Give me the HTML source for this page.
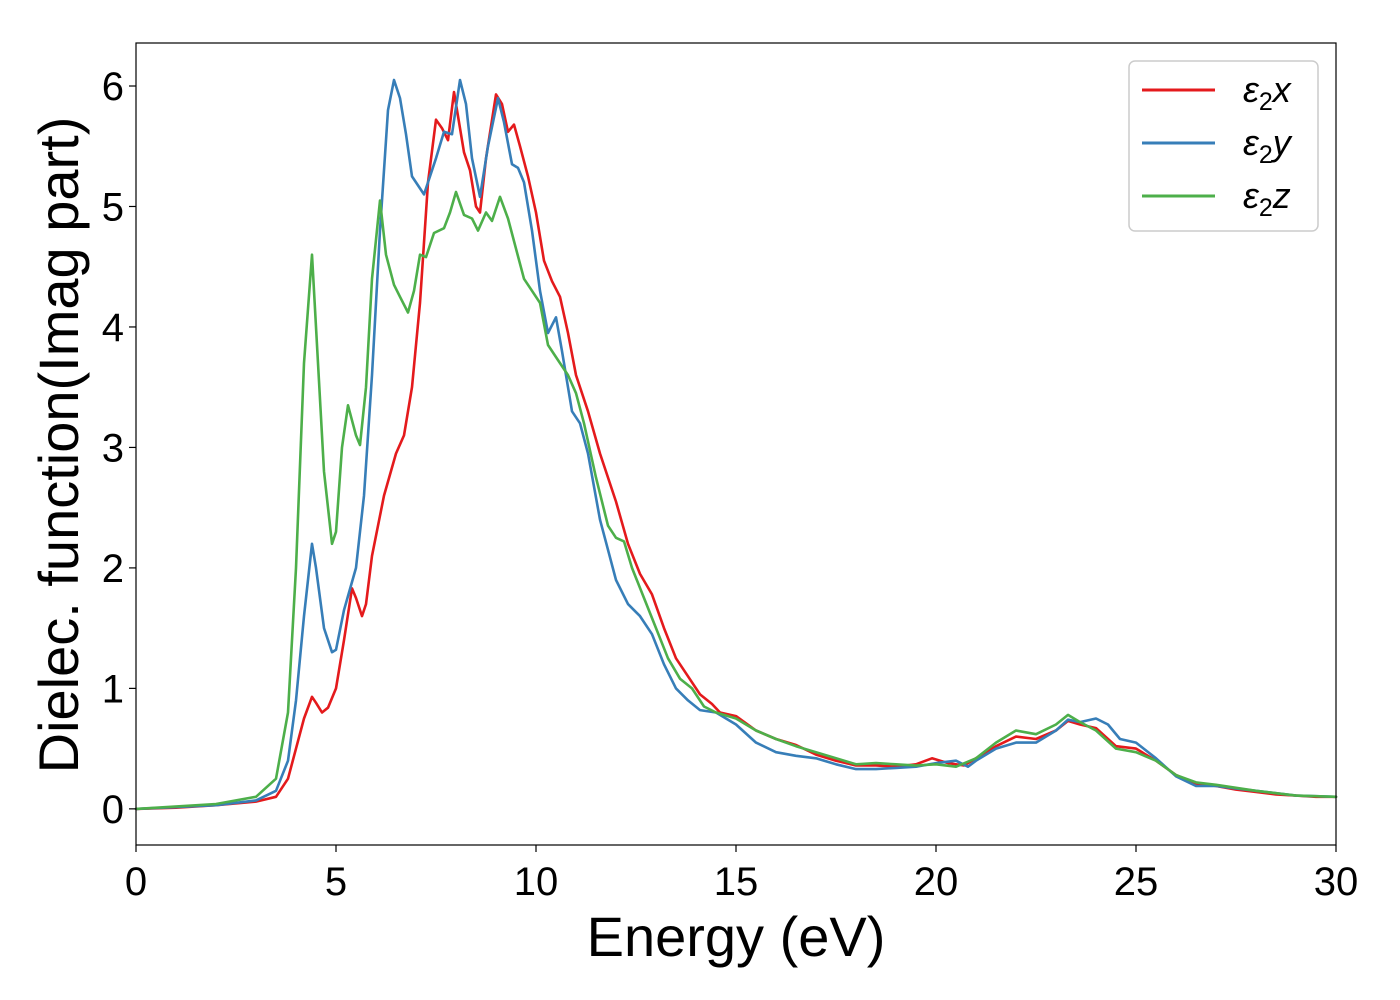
<!DOCTYPE html>
<html><head><meta charset="utf-8"><style>
html,body{margin:0;padding:0;background:#fff}
svg{display:block;font-family:"Liberation Sans","DejaVu Sans",sans-serif}
</style></head><body>
<svg id="chart" width="1400" height="1000" viewBox="0 0 1400 1000">
<g id="plot"></g>
<g id="axes"></g>
<text x="736" y="956" font-size="56" text-anchor="middle">Energy (eV)</text>
<text transform="translate(78,445) rotate(-90)" font-size="56" text-anchor="middle">Dielec. function(Imag part)</text>
<g>
<rect x="1129" y="61" width="189" height="170" rx="6" fill="#fff" stroke="#ccc" stroke-width="1.5"/>
<line x1="1142" y1="90" x2="1215" y2="90" stroke="#e41a1c" stroke-width="3"/>
<text x="1243" y="102" font-size="36" font-style="italic">ε<tspan font-style="normal" font-size="25" dy="8">2</tspan><tspan dy="-8">x</tspan></text>
<line x1="1142" y1="143" x2="1215" y2="143" stroke="#377eb8" stroke-width="3"/>
<text x="1243" y="155" font-size="36" font-style="italic">ε<tspan font-style="normal" font-size="25" dy="8">2</tspan><tspan dy="-8">y</tspan></text>
<line x1="1142" y1="196" x2="1215" y2="196" stroke="#4daf4a" stroke-width="3"/>
<text x="1243" y="208" font-size="36" font-style="italic">ε<tspan font-style="normal" font-size="25" dy="8">2</tspan><tspan dy="-8">z</tspan></text>
</g>
</svg>
<script>
const xTicks=[0,5,10,15,20,25,30];
const yTicks=[0,1,2,3,4,5,6];
const seriesX=[[0,0],[1,0.01],[2,0.03],[3,0.06],[3.5,0.1],[3.8,0.25],[4.0,0.5],[4.2,0.75],[4.4,0.93],[4.5,0.88],[4.65,0.8],[4.8,0.84],[5.0,1.0],[5.2,1.4],[5.4,1.83],[5.5,1.75],[5.65,1.6],[5.75,1.7],[5.9,2.1],[6.2,2.6],[6.5,2.95],[6.7,3.1],[6.9,3.5],[7.1,4.2],[7.3,5.2],[7.5,5.72],[7.65,5.65],[7.8,5.55],[7.95,5.95],[8.05,5.75],[8.2,5.45],[8.35,5.3],[8.5,5.0],[8.6,4.95],[8.75,5.4],[9.0,5.93],[9.15,5.85],[9.3,5.62],[9.45,5.68],[9.6,5.5],[9.8,5.25],[10.0,4.95],[10.2,4.55],[10.4,4.38],[10.6,4.25],[10.8,3.95],[11.0,3.6],[11.3,3.3],[11.6,2.95],[12.0,2.55],[12.3,2.2],[12.6,1.95],[12.9,1.78],[13.2,1.5],[13.5,1.25],[13.8,1.1],[14.1,0.95],[14.4,0.87],[14.6,0.8],[15.0,0.77],[15.5,0.65],[16,0.58],[16.5,0.53],[17,0.45],[17.5,0.4],[18,0.36],[18.5,0.36],[19,0.35],[19.5,0.37],[19.9,0.42],[20.3,0.38],[20.7,0.36],[21,0.42],[21.5,0.52],[22,0.6],[22.5,0.58],[23,0.65],[23.3,0.73],[23.6,0.7],[24,0.67],[24.5,0.52],[25,0.5],[25.5,0.4],[26,0.28],[26.5,0.21],[27,0.19],[27.5,0.16],[28,0.14],[28.5,0.12],[29,0.11],[29.5,0.1],[30,0.1]];
const seriesY=[[0,0],[2,0.03],[3,0.07],[3.5,0.15],[3.8,0.4],[4.0,0.9],[4.2,1.6],[4.4,2.2],[4.5,2.0],[4.7,1.5],[4.9,1.3],[5.0,1.32],[5.2,1.65],[5.5,2.0],[5.7,2.6],[5.9,3.6],[6.1,4.8],[6.3,5.8],[6.45,6.05],[6.6,5.9],[6.75,5.6],[6.9,5.25],[7.2,5.1],[7.5,5.4],[7.7,5.62],[7.9,5.6],[8.1,6.05],[8.25,5.85],[8.4,5.4],[8.6,5.08],[8.8,5.5],[9.05,5.9],[9.2,5.7],[9.4,5.35],[9.55,5.32],[9.7,5.2],[9.9,4.8],[10.1,4.3],[10.3,3.95],[10.5,4.08],[10.65,3.8],[10.9,3.3],[11.1,3.2],[11.3,2.95],[11.6,2.4],[11.8,2.15],[12.0,1.9],[12.3,1.7],[12.6,1.6],[12.9,1.45],[13.2,1.2],[13.5,1.0],[13.8,0.9],[14.1,0.82],[14.5,0.8],[15,0.7],[15.5,0.55],[16,0.47],[16.5,0.44],[17,0.42],[17.5,0.37],[18,0.33],[18.5,0.33],[19,0.34],[19.5,0.35],[20,0.38],[20.5,0.4],[20.8,0.35],[21,0.4],[21.5,0.5],[22,0.55],[22.5,0.55],[23,0.65],[23.3,0.74],[23.6,0.72],[24,0.75],[24.3,0.7],[24.6,0.58],[25,0.55],[25.5,0.42],[26,0.27],[26.5,0.19],[27,0.19],[27.5,0.17],[28,0.15],[28.5,0.13],[29,0.11],[30,0.1]];
const seriesZ=[[0,0],[2,0.04],[3,0.1],[3.5,0.25],[3.8,0.8],[4.0,2.0],[4.2,3.7],[4.4,4.6],[4.5,4.0],[4.7,2.8],[4.9,2.2],[5.0,2.3],[5.15,3.0],[5.3,3.35],[5.5,3.1],[5.6,3.02],[5.75,3.5],[5.9,4.4],[6.1,5.05],[6.25,4.6],[6.45,4.35],[6.6,4.25],[6.8,4.12],[6.95,4.3],[7.1,4.6],[7.25,4.58],[7.45,4.78],[7.7,4.82],[7.85,4.95],[8.0,5.12],[8.2,4.93],[8.4,4.9],[8.55,4.8],[8.75,4.95],[8.9,4.88],[9.1,5.08],[9.3,4.9],[9.5,4.65],[9.7,4.4],[9.9,4.3],[10.1,4.2],[10.3,3.85],[10.5,3.75],[10.8,3.6],[11.0,3.45],[11.2,3.2],[11.5,2.75],[11.8,2.35],[12.0,2.25],[12.2,2.22],[12.4,2.0],[12.7,1.75],[13.0,1.5],[13.3,1.25],[13.6,1.08],[13.9,1.0],[14.2,0.85],[14.5,0.8],[15,0.75],[15.5,0.65],[16,0.58],[16.5,0.52],[17,0.47],[17.5,0.42],[18,0.37],[18.5,0.38],[19,0.37],[19.5,0.36],[20,0.37],[20.5,0.35],[21,0.42],[21.5,0.55],[22,0.65],[22.5,0.62],[23,0.7],[23.3,0.78],[23.6,0.72],[24,0.65],[24.5,0.5],[25,0.47],[25.5,0.4],[26,0.28],[26.5,0.22],[27,0.2],[28,0.15],[29,0.11],[30,0.1]];

const NS="http://www.w3.org/2000/svg";
const L=136,R=1336,T=43,B=845;
const X0=0,X1=30,Y0=-0.3,Y1=6.357;
function sx(v){return L+(v-X0)/(X1-X0)*(R-L);}
function sy(v){return B-(v-Y0)/(Y1-Y0)*(B-T);}
const plot=document.getElementById('plot'),axes=document.getElementById('axes');
function mk(tag,attrs,parent){const e=document.createElementNS(NS,tag);for(const k in attrs)e.setAttribute(k,attrs[k]);parent.appendChild(e);return e;}
function drawLine(data,color,name){
  const d=data.map((p,i)=>(i?'L':'M')+sx(p[0]).toFixed(1)+','+sy(p[1]).toFixed(1)).join('');
  const p=mk('path',{d:d,fill:'none',stroke:color,'stroke-width':2.6,'stroke-linejoin':'round','stroke-linecap':'round'},plot);
  
  
}
drawLine(seriesX,'#e41a1c','series-eps2-x');
drawLine(seriesY,'#377eb8','series-eps2-y');
drawLine(seriesZ,'#4daf4a','series-eps2-z');
const frame=mk('rect',{x:L,y:T,width:R-L,height:B-T,fill:'none',stroke:'#000','stroke-width':1.2},axes);


xTicks.forEach(v=>{
  const x=sx(v);
  const t=mk('line',{x1:x,y1:B,x2:x,y2:B+7,stroke:'#000','stroke-width':1.2},axes);
  
  
  const l=mk('text',{x:x,y:B+50,'font-size':40,'text-anchor':'middle'},axes);
  l.textContent=v;
  
  
});
yTicks.forEach(v=>{
  const y=sy(v);
  const t=mk('line',{x1:L-7,y1:y,x2:L,y2:y,stroke:'#000','stroke-width':1.2},axes);
  
  
  const l=mk('text',{x:L-12,y:y+14,'font-size':40,'text-anchor':'end'},axes);
  l.textContent=v;
  
  
});
</script>
</body></html>
